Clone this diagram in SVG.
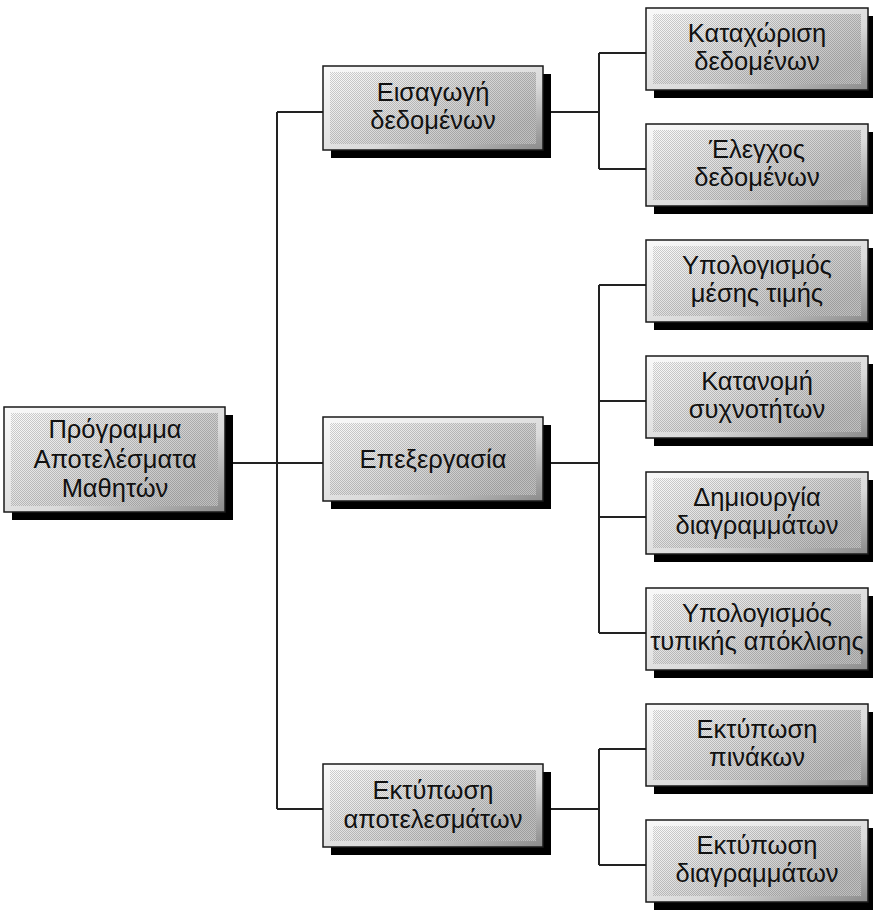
<svg xmlns="http://www.w3.org/2000/svg" width="873" height="915" viewBox="0 0 873 915">
<style>
.sh{fill:#000}
.frame{fill:url(#bevel);stroke:#1a1a1a;stroke-width:1.5}
.inner{fill:url(#grad)}
.hatch{fill:url(#checker)}
.t{font-family:"Liberation Sans",Arial,sans-serif;font-size:25.5px;fill:#111;text-anchor:middle}
.c{fill:none;stroke:#222;stroke-width:2}
</style>
<defs>
<linearGradient id="bevel" x1="0" y1="0" x2="1" y2="1">
<stop offset="0" stop-color="#fafafa"/>
<stop offset="0.6" stop-color="#dadada"/>
<stop offset="1" stop-color="#8a8a8a"/>
</linearGradient>
<linearGradient id="grad" x1="0" y1="0" x2="1" y2="0.6">
<stop offset="0" stop-color="#fbfbfb"/>
<stop offset="1" stop-color="#c0c0c0"/>
</linearGradient>
<pattern id="checker" width="2" height="2" patternUnits="userSpaceOnUse">
<rect x="0" y="0" width="1" height="1" fill="#000" fill-opacity="0.18"/>
<rect x="1" y="1" width="1" height="1" fill="#000" fill-opacity="0.18"/>
</pattern>
</defs>
<g id="connectors">
<path class="c" d="M233 463H323M277 112V809M277 112H323M277 809H323"/>
<path class="c" d="M551 112H599M599 53V169M599 53H646M599 169H646"/>
<path class="c" d="M551 463H599M599 285V633M599 285H646M599 401H646M599 517H646M599 633H646"/>
<path class="c" d="M551 809H599M599 749V865M599 749H646M599 865H646"/>
</g>
<g id="root">
<rect class="sh" x="12" y="415" width="221" height="105"/>
<rect class="frame" x="4" y="407" width="221" height="105"/>
<rect class="inner" x="11" y="413" width="207" height="93"/>
<rect class="hatch" x="11" y="413" width="207" height="93"/>
<text class="t" x="115" y="438">Πρόγραμμα</text>
<text class="t" x="115" y="468">Αποτελέσματα</text>
<text class="t" x="115" y="497">Μαθητών</text>
</g>
<g id="n1">
<rect class="sh" x="331" y="74" width="220" height="84"/>
<rect class="frame" x="323" y="66" width="220" height="84"/>
<rect class="inner" x="330" y="72" width="206" height="72"/>
<rect class="hatch" x="330" y="72" width="206" height="72"/>
<text class="t" x="433" y="101">Εισαγωγή</text>
<text class="t" x="433" y="129">δεδομένων</text>
</g>
<g id="n2">
<rect class="sh" x="331" y="425" width="220" height="84"/>
<rect class="frame" x="323" y="417" width="220" height="84"/>
<rect class="inner" x="330" y="423" width="206" height="72"/>
<rect class="hatch" x="330" y="423" width="206" height="72"/>
<text class="t" x="433" y="468">Επεξεργασία</text>
</g>
<g id="n3">
<rect class="sh" x="331" y="772" width="220" height="83"/>
<rect class="frame" x="323" y="764" width="220" height="83"/>
<rect class="inner" x="330" y="770" width="206" height="71"/>
<rect class="hatch" x="330" y="770" width="206" height="71"/>
<text class="t" x="433" y="799">Εκτύπωση</text>
<text class="t" x="433" y="828">αποτελεσμάτων</text>
</g>
<g id="n11">
<rect class="sh" x="654" y="16" width="222" height="82"/>
<rect class="frame" x="646" y="8" width="222" height="82"/>
<rect class="inner" x="653" y="14" width="208" height="70"/>
<rect class="hatch" x="653" y="14" width="208" height="70"/>
<text class="t" x="757" y="42">Καταχώριση</text>
<text class="t" x="757" y="70">δεδομένων</text>
</g>
<g id="n12">
<rect class="sh" x="654" y="132" width="222" height="82"/>
<rect class="frame" x="646" y="124" width="222" height="82"/>
<rect class="inner" x="653" y="130" width="208" height="70"/>
<rect class="hatch" x="653" y="130" width="208" height="70"/>
<text class="t" x="757" y="158">Έλεγχος</text>
<text class="t" x="757" y="186">δεδομένων</text>
</g>
<g id="n21">
<rect class="sh" x="654" y="248" width="222" height="82"/>
<rect class="frame" x="646" y="240" width="222" height="82"/>
<rect class="inner" x="653" y="246" width="208" height="70"/>
<rect class="hatch" x="653" y="246" width="208" height="70"/>
<text class="t" x="757" y="274">Υπολογισμός</text>
<text class="t" x="757" y="302">μέσης τιμής</text>
</g>
<g id="n22">
<rect class="sh" x="654" y="364" width="222" height="82"/>
<rect class="frame" x="646" y="356" width="222" height="82"/>
<rect class="inner" x="653" y="362" width="208" height="70"/>
<rect class="hatch" x="653" y="362" width="208" height="70"/>
<text class="t" x="757" y="390">Κατανομή</text>
<text class="t" x="757" y="418">συχνοτήτων</text>
</g>
<g id="n23">
<rect class="sh" x="654" y="480" width="222" height="82"/>
<rect class="frame" x="646" y="472" width="222" height="82"/>
<rect class="inner" x="653" y="478" width="208" height="70"/>
<rect class="hatch" x="653" y="478" width="208" height="70"/>
<text class="t" x="757" y="506">Δημιουργία</text>
<text class="t" x="757" y="534">διαγραμμάτων</text>
</g>
<g id="n24">
<rect class="sh" x="654" y="596" width="222" height="82"/>
<rect class="frame" x="646" y="588" width="222" height="82"/>
<rect class="inner" x="653" y="594" width="208" height="70"/>
<rect class="hatch" x="653" y="594" width="208" height="70"/>
<text class="t" x="757" y="622">Υπολογισμός</text>
<text class="t" x="757" y="650">τυπικής απόκλισης</text>
</g>
<g id="n31">
<rect class="sh" x="654" y="712" width="222" height="82"/>
<rect class="frame" x="646" y="704" width="222" height="82"/>
<rect class="inner" x="653" y="710" width="208" height="70"/>
<rect class="hatch" x="653" y="710" width="208" height="70"/>
<text class="t" x="757" y="738">Εκτύπωση</text>
<text class="t" x="757" y="766">πινάκων</text>
</g>
<g id="n32">
<rect class="sh" x="654" y="828" width="222" height="82"/>
<rect class="frame" x="646" y="820" width="222" height="82"/>
<rect class="inner" x="653" y="826" width="208" height="70"/>
<rect class="hatch" x="653" y="826" width="208" height="70"/>
<text class="t" x="757" y="854">Εκτύπωση</text>
<text class="t" x="757" y="882">διαγραμμάτων</text>
</g>
</svg>
